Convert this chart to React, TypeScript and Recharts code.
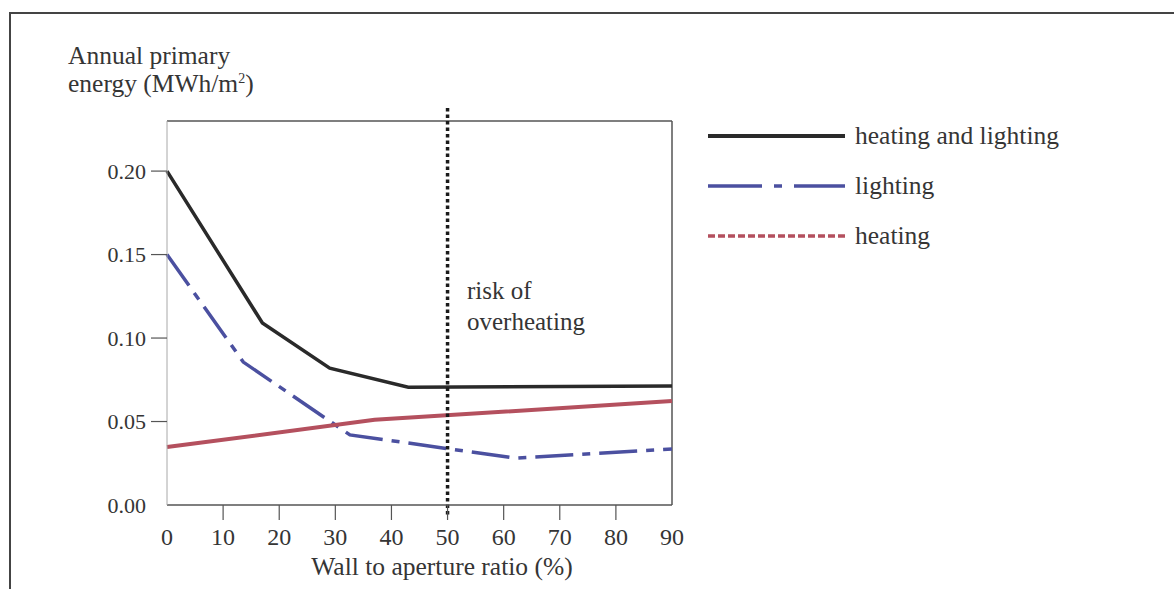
import { LineChart, Line, XAxis, YAxis, ReferenceLine } from 'recharts'

const xTicks = [0, 10, 20, 30, 40, 50, 60, 70, 80, 90]
const yTicks = [0, 0.05, 0.1, 0.15, 0.2]

// heating and lighting (total)
const totalX = [0, 17, 29, 43, 90]
const totalY = [0.2, 0.109, 0.082, 0.0705, 0.0713]
// lighting
const lightingX = [0, 13.6, 32.6, 62, 90]
const lightingY = [0.15, 0.0856, 0.042, 0.0281, 0.0335]
// heating
const heatingX = [0, 37, 90]
const heatingY = [0.0347, 0.051, 0.0623]

const overheatLimit = 50

const FONT = "'Liberation Serif', 'Times New Roman', serif"
const TEXT = '#353535'

const zip = (xs: number[], ys: number[]) => xs.map((x, i) => ({ x, y: ys[i] }))

const series = [
  { key: 'total', name: 'heating and lighting', color: '#2a2a2a', data: zip(totalX, totalY), dash: undefined, legendDash: undefined },
  { key: 'lighting', name: 'lighting', color: '#4b50a0', data: zip(lightingX, lightingY), dash: '38 9 8 9', legendDash: '54 12 8 12' },
  { key: 'heating', name: 'heating', color: '#b4505e', data: zip(heatingX, heatingY), dash: undefined, legendDash: '7 3' },
]

const XTick = ({ x, y, payload }: { x?: number; y?: number; payload?: { value: number } }) => {
  const v = payload?.value ?? 0
  const showLine = v !== 0 && v !== 90
  return (
    <g>
      {showLine && <line x1={x} x2={x} y1={y} y2={(y ?? 0) + 15} stroke="#555" strokeWidth={1.2} />}
      <text x={x} y={(y ?? 0) + 32} textAnchor="middle" dominantBaseline="central" fill={TEXT} fontSize={24} fontFamily={FONT}>
        {v}
      </text>
    </g>
  )
}

const YTick = ({ x, y, payload }: { x?: number; y?: number; payload?: { value: number } }) => {
  const v = payload?.value ?? 0
  return (
    <g>
      {v !== 0 && <line x1={(x ?? 0) - 16} x2={x} y1={y} y2={y} stroke="#555" strokeWidth={1.2} />}
      <text x={(x ?? 0) - 21} y={y} textAnchor="end" dominantBaseline="central" fill={TEXT} fontSize={22} fontFamily={FONT}>
        {v.toFixed(2)}
      </text>
    </g>
  )
}

export default function App() {
  return (
    <div style={{ position: 'absolute', left: 0, top: 0, width: 1174, height: 589, background: '#fff', overflow: 'hidden', fontFamily: FONT, color: TEXT }}>
      {/* figure frame */}
      <div style={{ position: 'absolute', left: 9, top: 12, width: 1200, height: 620, borderTop: '2.5px solid #444', borderLeft: '2px solid #444' }} />

      <div style={{ position: 'absolute', left: 68, top: 42, fontSize: 25.5, lineHeight: '28px' }}>
        Annual primary
        <br />
        energy (MWh/m<sup style={{ fontSize: 14, verticalAlign: 'top', lineHeight: '18px' }}>2</sup>)
      </div>

      <LineChart width={1174} height={589} margin={{ top: 121, right: 502, bottom: 0, left: 0 }}>
        <XAxis
          dataKey="x"
          type="number"
          domain={[0, 90]}
          ticks={xTicks}
          height={84}
          tickSize={0}
          tickMargin={0}
          tick={<XTick />}
          axisLine={{ stroke: '#555', strokeWidth: 1.5 }}
          allowDuplicatedCategory={false}
        />
        <YAxis
          dataKey="y"
          type="number"
          domain={[0, 0.23]}
          ticks={yTicks}
          width={167}
          tickSize={0}
          tickMargin={0}
          tick={<YTick />}
          axisLine={{ stroke: '#a8a8a8', strokeWidth: 1 }}
        />
        <ReferenceLine y={0.23} stroke="#555" strokeWidth={1.5} ifOverflow="visible" />
        <ReferenceLine x={90} stroke="#555" strokeWidth={1.5} ifOverflow="visible" />
        {series.map(s => (
          <Line
            key={s.key}
            data={s.data}
            dataKey="y"
            name={s.name}
            type="linear"
            stroke={s.color}
            strokeWidth={s.key === 'heating' ? 4 : 3.5}
            strokeDasharray={s.dash}
            dot={false}
            activeDot={false}
            isAnimationActive={false}
          />
        ))}
        <ReferenceLine
          segment={[{ x: overheatLimit, y: 0.2378 }, { x: overheatLimit, y: -0.006 }]}
          stroke="#1a1a1a"
          strokeWidth={3.5}
          strokeDasharray="3.5 3"
          ifOverflow="visible"
        />
      </LineChart>

      <div style={{ position: 'absolute', left: 467, top: 275, fontSize: 25, lineHeight: '31px' }}>
        risk of
        <br />
        overheating
      </div>

      <div style={{ position: 'absolute', left: 442, top: 553, fontSize: 25.5, lineHeight: '28px', transform: 'translateX(-50%)', whiteSpace: 'nowrap' }}>
        Wall to aperture ratio (%)
      </div>

      {/* legend */}
      <div style={{ position: 'absolute', left: 708, top: 111 }}>
        {series.map(s => (
          <div key={s.key} style={{ display: 'flex', alignItems: 'center', height: 50 }}>
            <svg width={137} height={10} style={{ display: 'block' }}>
              <line x1={0} x2={137} y1={5} y2={5} stroke={s.color} strokeWidth={s.key === 'total' ? 4 : 3.5} strokeDasharray={s.legendDash} />
            </svg>
            <span style={{ marginLeft: 10, fontSize: 25.5, whiteSpace: 'nowrap' }}>{s.name}</span>
          </div>
        ))}
      </div>
    </div>
  )
}
